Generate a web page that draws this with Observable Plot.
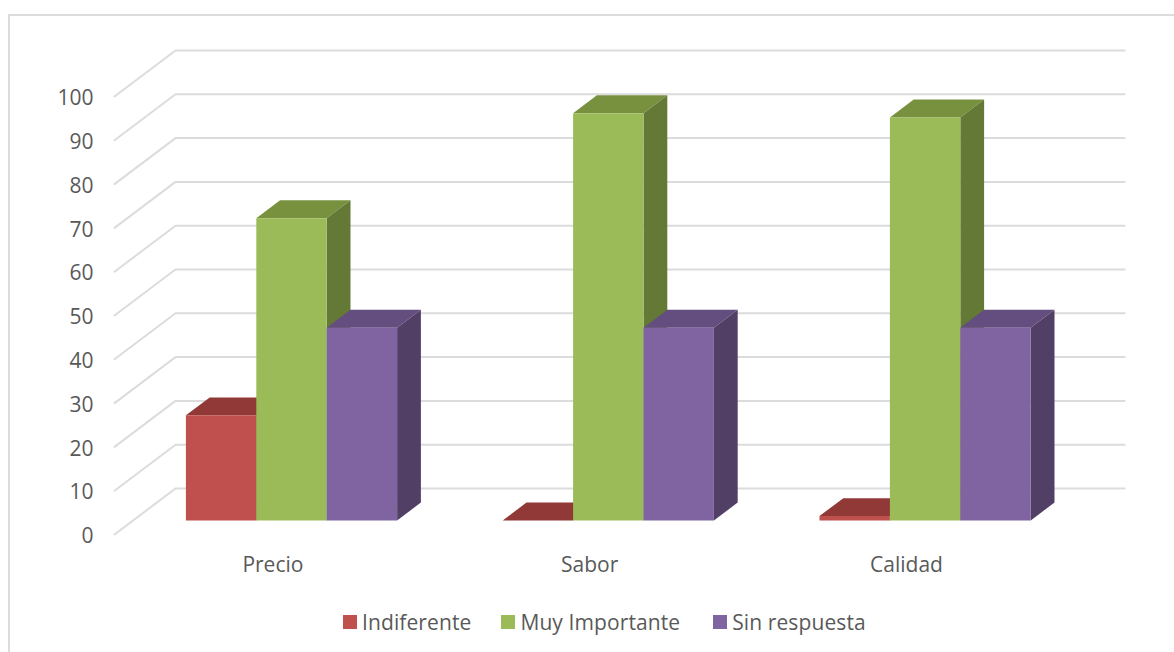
<!DOCTYPE html>
<html lang="es">
<head>
<meta charset="utf-8">
<title>Importancia por atributo</title>
<script src="https://cdn.jsdelivr.net/npm/d3@7"></script>
<script src="https://cdn.jsdelivr.net/npm/@observablehq/plot@0.6"></script>
<style>
  html, body { margin: 0; background: #fff; overflow: hidden; }
  #chart { position: relative; width: 1174px; height: 652px; font-family: "Open Sans", sans-serif; color: #595959; }
  #frame { position: absolute; left: 8px; top: 14px; right: 0; bottom: 0; border-left: 2px solid #dcdcdc; border-top: 2px solid #dcdcdc; }
  #plot { position: relative; }
  #plot svg { display: block; background: transparent; }
  #legend { position: relative; display: flex; align-items: center; height: 32px; padding-left: 343px; font-size: 21px; line-height: 1; letter-spacing: 0.1px; }
  .item { display: flex; align-items: center; margin-right: 30px; }
  .item:nth-child(2) { margin-right: 33px; }
  .swatch { width: 14px; height: 14px; margin-right: 5px; }
</style>
</head>
<body>
<div id="chart">
  <div id="frame"></div>
  <div id="plot"></div>
  <div id="legend"></div>
</div>
<script>
// Respuestas por atributo
const categories = ["Precio", "Sabor", "Calidad"];
const seriesNames = ["Indiferente", "Muy Importante", "Sin respuesta"];
const indiferente = [24, 0, 1];
const muyImportante = [69, 93, 92];
const sinRespuesta = [44, 44, 44];
const yTicks = [0, 10, 20, 30, 40, 50, 60, 70, 80, 90, 100];

const seriesValues = [indiferente, muyImportante, sinRespuesta];
const frontColors = ["#c0504d", "#9bbb59", "#8064a2"];
const topColors = ["#913937", "#78913f", "#644e80"];
const sideColors = ["#702b2a", "#637935", "#513f65"];

// Oblique projection: depth runs from the front of the floor (0) to the back wall (1).
const xPerDepth = 61 / 316.8;
const yPerDepth = 46 / 4.38;
const project = (cat, value, depth) => ({x: cat + depth * xPerDepth, y: value + depth * yPerDepth});

const barInset = 1 / 6;
const barWidth = 2 / 9;
const depthFront = 0.305;
const depthBack = 0.695;
// The back wall stops a touch short of the last category boundary.
const wallEnd = categories.length - 0.004;

const face = (points, fill) => Plot.line(points, {x: "x", y: "y", fill, stroke: "none"});

const gridLines = yTicks.map((v) =>
  Plot.line(
    [project(0, v, 0), project(0, v, 1), project(wallEnd, v, 1)],
    {x: "x", y: "y", stroke: "#dcdcdc", strokeWidth: 2}
  )
);

const barFaces = categories.flatMap((_, c) =>
  seriesNames.flatMap((__, s) => {
    const v = seriesValues[s][c];
    const x0 = c + barInset + s * barWidth;
    const x1 = x0 + barWidth;
    return [
      face([project(x0, v, depthFront), project(x1, v, depthFront), project(x1, v, depthBack), project(x0, v, depthBack)], topColors[s]),
      face([project(x1, 0, depthFront), project(x1, v, depthFront), project(x1, v, depthBack), project(x1, 0, depthBack)], sideColors[s]),
      face([project(x0, 0, depthFront), project(x1, 0, depthFront), project(x1, v, depthFront), project(x0, v, depthFront)], frontColors[s])
    ];
  })
);

const chart = Plot.plot({
  width: 1174,
  height: 606,
  marginLeft: 114,
  marginRight: 109.6,
  marginTop: 96,
  marginBottom: 72,
  style: {fontFamily: "'Open Sans', sans-serif", fontSize: "21px", background: "transparent", overflow: "visible"},
  x: {domain: [0, categories.length]},
  y: {domain: [0, 100]},
  marks: [
    ...gridLines,
    ...barFaces,
    Plot.axisY({
      ticks: yTicks,
      tickSize: 0,
      tickPadding: 21,
      dy: 2,
      label: null,
      fill: "#595959"
    }),
    Plot.axisX({
      ticks: categories.map((_, i) => i + 0.5),
      tickFormat: (d) => categories[Math.floor(d)],
      tickSize: 0,
      tickPadding: 23,
      label: null,
      fill: "#595959"
    })
  ]
});
document.getElementById("plot").append(chart);

// Legend below the plot
const legend = d3.select("#legend");
seriesNames.forEach((name, i) => {
  const item = legend.append("div").attr("class", "item");
  item.append("div").attr("class", "swatch").style("background", frontColors[i]);
  item.append("div").text(name);
});
</script>
</body>
</html>
